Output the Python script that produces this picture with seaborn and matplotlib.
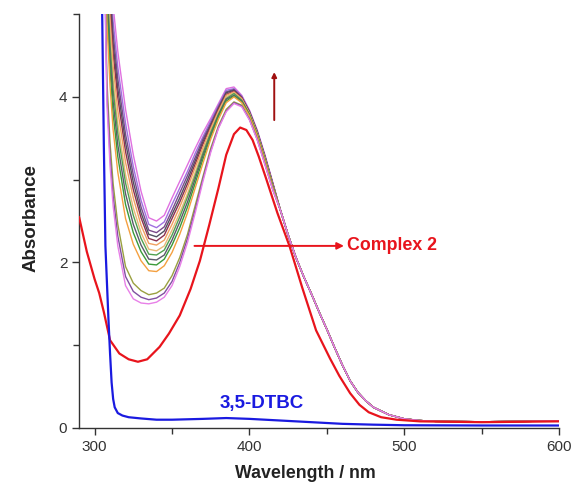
import numpy as np
import pandas as pd
import matplotlib
matplotlib.use("Agg")
import matplotlib.pyplot as plt
import seaborn as sns
from matplotlib.ticker import MultipleLocator

# ---------------- data ----------------
# wavelength grid for the titration family (nm), shared tail afterwards
fam_wl = [306, 308, 310, 312, 315, 320, 325, 330, 335, 340, 345, 350, 355, 360,
          365, 370, 375, 380, 385, 390, 395, 400, 405, 410, 415]
tail_wl = [420, 425, 430, 435, 440, 445, 450, 455, 460, 465, 470, 475, 480,
           490, 500, 510, 520, 550, 580, 600]
tail_abs = [2.63, 2.33, 2.06, 1.83, 1.62, 1.40, 1.19, 0.97, 0.76, 0.57, 0.43,
            0.33, 0.25, 0.16, 0.11, 0.09, 0.08, 0.075, 0.08, 0.085]

fam_01 = [7.50, 6.50, 5.70, 5.10, 4.55, 3.85, 3.30, 2.86, 2.54, 2.50, 2.57, 2.78, 2.98, 3.18,
          3.38, 3.57, 3.74, 3.92, 4.10, 4.12, 4.02, 3.84, 3.60, 3.30, 2.97]
fam_02 = [7.38, 6.29, 5.50, 4.91, 4.36, 3.68, 3.16, 2.75, 2.46, 2.42, 2.49, 2.70, 2.90, 3.10,
          3.32, 3.52, 3.71, 3.90, 4.08, 4.10, 4.01, 3.83, 3.59, 3.29, 2.96]
fam_03 = [7.29, 6.14, 5.34, 4.76, 4.22, 3.55, 3.06, 2.67, 2.39, 2.36, 2.43, 2.63, 2.84, 3.05,
          3.27, 3.49, 3.68, 3.88, 4.06, 4.09, 4.00, 3.82, 3.58, 3.28, 2.96]
fam_04 = [7.21, 6.01, 5.22, 4.64, 4.10, 3.45, 2.97, 2.60, 2.34, 2.31, 2.38, 2.58, 2.78, 3.00,
          3.23, 3.46, 3.66, 3.86, 4.05, 4.08, 3.99, 3.82, 3.58, 3.28, 2.95]
fam_05 = [7.14, 5.88, 5.09, 4.52, 3.99, 3.34, 2.88, 2.54, 2.29, 2.26, 2.33, 2.53, 2.73, 2.95,
          3.19, 3.43, 3.64, 3.85, 4.03, 4.07, 3.99, 3.81, 3.57, 3.27, 2.95]
fam_06 = [7.05, 5.72, 4.94, 4.37, 3.84, 3.21, 2.78, 2.45, 2.23, 2.21, 2.27, 2.46, 2.67, 2.90,
          3.15, 3.39, 3.62, 3.83, 4.02, 4.06, 3.98, 3.80, 3.56, 3.26, 2.94]
fam_07 = [6.94, 5.54, 4.76, 4.20, 3.68, 3.06, 2.66, 2.36, 2.16, 2.14, 2.20, 2.39, 2.60, 2.83,
          3.09, 3.35, 3.59, 3.81, 4.00, 4.05, 3.97, 3.80, 3.56, 3.26, 2.94]
fam_08 = [6.87, 5.41, 4.63, 4.08, 3.56, 2.96, 2.57, 2.29, 2.10, 2.09, 2.15, 2.33, 2.55, 2.79,
          3.05, 3.32, 3.57, 3.79, 3.98, 4.04, 3.96, 3.79, 3.55, 3.25, 2.93]
fam_09 = [6.78, 5.25, 4.48, 3.94, 3.42, 2.83, 2.46, 2.21, 2.04, 2.03, 2.09, 2.27, 2.49, 2.73,
          3.01, 3.29, 3.54, 3.78, 3.97, 4.02, 3.95, 3.78, 3.54, 3.24, 2.93]
fam_10 = [6.69, 5.10, 4.33, 3.79, 3.28, 2.70, 2.36, 2.13, 1.98, 1.97, 2.04, 2.21, 2.42, 2.67,
          2.96, 3.25, 3.52, 3.76, 3.95, 4.01, 3.94, 3.78, 3.54, 3.24, 2.92]
fam_11 = [6.57, 4.89, 4.13, 3.60, 3.09, 2.53, 2.22, 2.02, 1.90, 1.89, 1.96, 2.12, 2.34, 2.60,
          2.90, 3.20, 3.49, 3.73, 3.93, 4.00, 3.93, 3.77, 3.53, 3.23, 2.91]
fam_12 = [6.16, 4.19, 3.44, 2.95, 2.46, 1.95, 1.75, 1.66, 1.61, 1.63, 1.69, 1.84, 2.06, 2.34,
          2.69, 3.04, 3.38, 3.65, 3.85, 3.94, 3.90, 3.73, 3.49, 3.19, 2.89]
fam_13 = [6.07, 4.03, 3.29, 2.80, 2.32, 1.83, 1.65, 1.58, 1.55, 1.57, 1.63, 1.77, 2.00, 2.29,
          2.64, 3.01, 3.35, 3.63, 3.83, 3.93, 3.89, 3.73, 3.49, 3.19, 2.88]
fam_14 = [6.00, 3.90, 3.16, 2.68, 2.20, 1.72, 1.56, 1.51, 1.50, 1.52, 1.58, 1.72, 1.95, 2.24,
          2.60, 2.98, 3.33, 3.62, 3.82, 3.92, 3.88, 3.72, 3.48, 3.18, 2.88]
family = [fam_01, fam_02, fam_03, fam_04, fam_05, fam_06, fam_07,
          fam_08, fam_09, fam_10, fam_11, fam_12, fam_13, fam_14]
fam_colors = ["#e070e0", "#a070e0", "#7a4a8a", "#505060", "#8a3050", "#f0a060",
              "#e8b878", "#50a050", "#5a5a6a", "#3a9a3a", "#f4a040", "#9aa040",
              "#8050a0", "#e880e8"]

# Complex 2 (red)
cx_wl = [290, 295, 300, 303, 306, 310, 316, 322, 328, 334, 342, 348, 355, 362, 368,
         374, 380, 385, 390, 394, 398, 402, 406, 411, 418, 426, 434, 443, 452, 458,
         465, 471, 477, 485, 495, 510, 550, 600]
cx_abs = [2.55, 2.13, 1.80, 1.63, 1.40, 1.06, 0.90, 0.83, 0.80, 0.83, 0.98, 1.14, 1.36,
          1.68, 2.02, 2.45, 2.90, 3.30, 3.55, 3.63, 3.60, 3.48, 3.28, 3.00, 2.60, 2.19,
          1.70, 1.18, 0.84, 0.63, 0.42, 0.28, 0.19, 0.13, 0.10, 0.08, 0.07, 0.08]

# 3,5-DTBC (blue)
db_wl = [304, 305, 306, 307, 308, 309, 310, 311, 312, 313, 315, 318, 322, 330, 340,
         350, 360, 370, 385, 400, 420, 440, 460, 480, 500, 550, 600]
db_abs = [6.0, 4.9, 3.4, 2.2, 1.75, 1.3, 0.9, 0.55, 0.35, 0.25, 0.18, 0.15, 0.13, 0.115,
          0.10, 0.10, 0.105, 0.11, 0.12, 0.11, 0.09, 0.07, 0.05, 0.04, 0.033, 0.03, 0.03]

# ---------------- plotting ----------------
sns.set_style("ticks")
plt.rcParams['font.family'] = ['Liberation Sans', 'DejaVu Sans']

fig = plt.figure(figsize=(5.73, 4.88), dpi=100)
ax = fig.add_axes([0.138, 0.123, 0.838, 0.848])

fam_x = fam_wl + tail_wl
for vals, col in zip(family, fam_colors):
    sns.lineplot(x=fam_x, y=vals + tail_abs, color=col, lw=1.0, ax=ax,
                 estimator=None, sort=False)

sns.lineplot(x=cx_wl, y=cx_abs, color="#e8141c", lw=1.6, ax=ax,
             estimator=None, sort=False, zorder=5)
sns.lineplot(x=db_wl, y=db_abs, color="#1a1ae0", lw=1.6, ax=ax,
             estimator=None, sort=False, zorder=5)

ax.set_xlim(290, 600)
ax.set_ylim(0, 5)
ax.xaxis.set_major_locator(MultipleLocator(100))
ax.xaxis.set_minor_locator(MultipleLocator(50))
ax.yaxis.set_major_locator(MultipleLocator(2))
ax.yaxis.set_minor_locator(MultipleLocator(1))
ax.tick_params(which='both', direction='out', colors='#333333', labelsize=11,
               width=1.0)
ax.tick_params(which='major', length=5)
ax.tick_params(which='minor', length=4)
for s in ['top', 'right']:
    ax.spines[s].set_visible(False)
for s in ['left', 'bottom']:
    ax.spines[s].set_color('#333333')
    ax.spines[s].set_linewidth(1.0)

ax.set_xlabel("Wavelength / nm", fontsize=12.8, fontweight='bold', color='#222222')
ax.set_ylabel("Absorbance", fontsize=13.5, fontweight='bold', color='#222222')
ax.xaxis.set_label_coords(0.471, -0.09)
ax.yaxis.set_label_coords(-0.083, 0.508)

# annotations
ax.annotate("", xy=(461, 2.2), xytext=(364.5, 2.2),
            arrowprops=dict(arrowstyle='-|>', color='#e8141c', lw=1.4,
                            mutation_scale=10, shrinkA=0, shrinkB=0))
ax.text(463, 2.2, "Complex 2", color='#e8141c', fontsize=12.8, fontweight='bold',
        va='center', ha='left')
ax.text(380.5, 0.29, "3,5-DTBC", color='#1a1ae0', fontsize=13.5, fontweight='bold',
        va='center', ha='left')
ax.annotate("", xy=(416, 4.3), xytext=(416, 3.72),
            arrowprops=dict(arrowstyle='-|>', color='#a01010', lw=1.4,
                            mutation_scale=7, shrinkA=0, shrinkB=0))

fig.savefig("out.png", dpi=100)
